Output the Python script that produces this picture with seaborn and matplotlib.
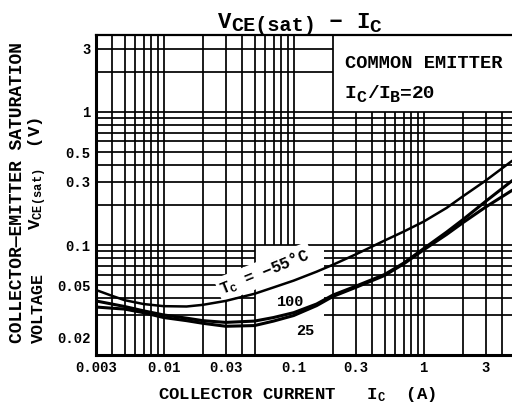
import numpy as np
import pandas as pd
import matplotlib
matplotlib.use("Agg")
import matplotlib.pyplot as plt
import seaborn as sns

# ---- data ----
ic = [0.003, 0.004, 0.005, 0.007, 0.01, 0.015, 0.02, 0.03, 0.05, 0.07,
      0.1, 0.15, 0.2, 0.3, 0.5, 0.7, 1.0, 1.5, 2.0, 3.0, 4.8]
vce_m55 = [0.046, 0.0415, 0.0385, 0.036, 0.0347, 0.0345, 0.0355, 0.038, 0.043, 0.048,
           0.054, 0.063, 0.071, 0.085, 0.108, 0.126, 0.15, 0.19, 0.232, 0.305, 0.43]
vce_100 = [0.038, 0.036, 0.0345, 0.032, 0.0298, 0.0282, 0.027, 0.0262, 0.0268, 0.0285,
           0.031, 0.036, 0.042, 0.049, 0.06, 0.073, 0.094, 0.125, 0.155, 0.213, 0.305]
vce_25 = [0.0342, 0.0335, 0.033, 0.031, 0.0285, 0.027, 0.0258, 0.0245, 0.0248, 0.0268,
          0.0295, 0.035, 0.041, 0.048, 0.059, 0.072, 0.092, 0.12, 0.147, 0.193, 0.258]
temps = ["-55", "100", "25"]

x_ticks = [0.003, 0.01, 0.03, 0.1, 0.3, 1, 3]
x_tick_labels = ["0.003", "0.01", "0.03", "0.1", "0.3", "1", "3"]
y_ticks = [0.02, 0.05, 0.1, 0.3, 0.5, 1, 3]
y_tick_labels = ["0.02", "0.05", "0.1", "0.3", "0.5", "1", "3"]

df = pd.DataFrame({
    "IC": ic * 3,
    "VCE": vce_m55 + vce_100 + vce_25,
    "Tc": [t for t in temps for _ in ic],
})

sns.set_theme(style="white")
plt.rcParams["font.family"] = ["Liberation Mono", "DejaVu Sans"]
plt.rcParams["font.weight"] = "bold"
plt.rcParams["mathtext.default"] = "regular"
plt.rcParams["text.color"] = "black"

W, H = 512, 408
fig = plt.figure(figsize=(W / 100, H / 100), dpi=100)
fig.patch.set_facecolor("white")
x0, x1, ytop, ybot = 95.7, 512, 35, 355
ax = fig.add_axes([x0 / W, 1 - ybot / H, (x1 - x0) / W, (ybot - ytop) / H])
ax.set_facecolor("white")

XLO, XHI = 0.003, 4.78
YLO, YHI = 0.0149, 3.79

# ---- grid (datasheet style, with blank areas for labels) ----
gkw = dict(color="black", lw=1.25, zorder=1)
xs_grid = [k * 10.0 ** n for n in (-3, -2, -1, 0) for k in range(1, 10)]
xs_grid = [v for v in xs_grid if XLO * 1.01 < v < XHI]
for v in xs_grid:
    lo, hi = YLO, YHI
    if v > 0.2 * 1.01:
        hi = 1.0
    if 0.055 < v < 0.1 * 1.01:
        lo = 0.1
    ax.vlines(v, lo, hi, **gkw)

ys_grid = [k * 10.0 ** n for n in (-2, -1, 0) for k in range(1, 10)]
ys_grid = [v for v in ys_grid if 0.025 < v < YHI]
for v in ys_grid:
    if v > 1.01:
        ax.hlines(v, XLO, 0.2, **gkw)
    elif v < 0.099:
        ax.hlines(v, XLO, 0.05, **gkw)
        ax.hlines(v, 0.17, XHI, **gkw)
    else:
        ax.hlines(v, XLO, XHI, **gkw)

# ---- curves ----
sns.lineplot(data=df, x="IC", y="VCE", hue="Tc", size="Tc",
             palette={"-55": "black", "100": "black", "25": "black"},
             sizes={"-55": 1.8, "100": 2.2, "25": 2.2},
             estimator=None, sort=True, legend=False, ax=ax, zorder=3)

ax.set_xscale("log")
ax.set_yscale("log")
ax.set_xlim(XLO, XHI)
ax.set_ylim(YLO, YHI)
ax.set_xticks(x_ticks)
ax.set_xticklabels(x_tick_labels)
ax.set_yticks(y_ticks)
ax.set_yticklabels(y_tick_labels)
ax.minorticks_off()
ax.tick_params(length=0, labelsize=10, colors="black")
ax.tick_params(axis="x", pad=4)
ax.tick_params(axis="y", pad=3.5)
ax.set_xlabel("")
ax.set_ylabel("")
for s in ("left", "bottom"):
    ax.spines[s].set_linewidth(2.2)
    ax.spines[s].set_color("black")
ax.spines["top"].set_linewidth(1.6)
ax.spines["top"].set_color("black")
ax.spines["right"].set_visible(False)

# ---- curve labels ----
bb = dict(facecolor="white", edgecolor="none", pad=2)
ax.text(0.060, 0.0625, "$T_C$ = −55°C", rotation=22, fontsize=11.5,
        ha="center", va="center", bbox=bb, zorder=2.5)
ax.text(0.094, 0.0373, "100", fontsize=11, ha="center", va="center", zorder=4)
ax.text(0.122, 0.0226, "25", fontsize=11, ha="center", va="center", zorder=4)


def seq_text(pieces, x_px, base_px):
    """Write a run of text pieces (text, size, drop in points) one after another."""
    first = fig.text(x_px / W, 1 - base_px / H, pieces[0][0], fontsize=pieces[0][1],
                     ha="left", va="baseline")
    prev = first
    for s, size, dy in pieces[1:]:
        prev = ax.annotate(s, xy=(1, 0), xycoords=(prev, first), xytext=(0, -dy),
                           textcoords="offset points", fontsize=size,
                           ha="left", va="bottom", annotation_clip=False)
    return first


# ---- box text ----
fig.text(345 / W, 1 - 63 / H, "COMMON EMITTER", fontsize=13.5, ha="left", va="center")
seq_text([("I", 14, 0), ("C", 12, 2.5), ("/", 14, 0), ("I", 14, 0), ("B", 12, 2.5),
          ("=", 14, 0), ("20", 14, 0)], 345, 98)

# ---- title ----
seq_text([("V", 16, 0), ("CE(sat)", 14.5, 2.0), (" − ", 16, 0), ("I", 16, 0),
          ("C", 14, 2.5)], 218, 27.5)

# ---- axis labels ----
fig.text(297 / W, 1 - 395 / H, "COLLECTOR CURRENT   $I_C$  (A)", fontsize=12.5,
         ha="center", va="center")
fig.text(18 / W, 1 - 343 / H, "COLLECTOR—EMITTER SATURATION", fontsize=13,
         rotation=90, ha="center", va="bottom")
fig.text(38 / W, 1 - 343 / H, "VOLTAGE", fontsize=12, rotation=90, ha="center", va="bottom")
fig.text(38 / W, 1 - 230 / H, "$V_{CE(sat)}$  (V)", fontsize=12.5, rotation=90,
         ha="center", va="bottom")

fig.savefig("out.png", dpi=100, facecolor="white")
